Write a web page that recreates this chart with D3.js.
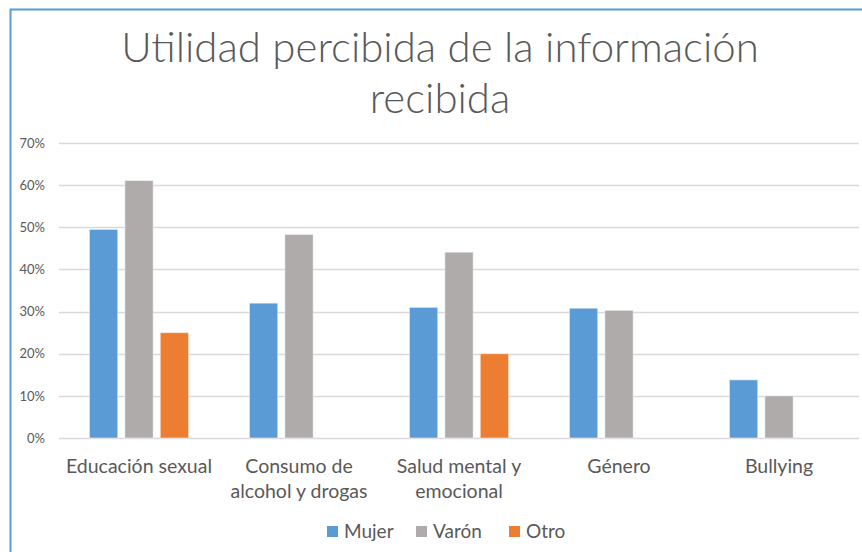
<!DOCTYPE html>
<meta charset="utf-8">
<head>
  <meta charset="utf-8">
  <title>Utilidad percibida de la información recibida</title>
  <script src="https://d3js.org/d3.v7.min.js"></script>
</head>
<style>
body {margin:0; background:#fff;}
text {font-family: Lato, "Open Sans", sans-serif; fill: #595959;}
.grid line {stroke: #d9d9d9; stroke-width: 1.3px;}
</style>
<body>
<script>

// data
var categories = ["Educación sexual", "Consumo de\nalcohol y drogas", "Salud mental y\nemocional", "Género", "Bullying"];
var series = ["Mujer", "Varón", "Otro"];
var mujer = [0.495, 0.32, 0.31, 0.308, 0.138];
var varon = [0.611, 0.483, 0.441, 0.303, 0.100];
var otro  = [0.25, null, 0.20, null, null];
var yTicks = [0, 0.1, 0.2, 0.3, 0.4, 0.5, 0.6, 0.7];
var colors = ["#5b9bd5", "#afabab", "#ed7d31"];

var values = [mujer, varon, otro];

var W = 862, H = 552;
var margin = {top: 143, right: 3, bottom: 114, left: 59},
    width = W - margin.left - margin.right,
    height = H - margin.top - margin.bottom;

var svg = d3.select("body").append("svg")
    .attr("width", W)
    .attr("height", H);

svg.append("rect").attr("width", W).attr("height", H).attr("fill", "#fff");

// chart frame (only top and left edges are visible)
svg.append("rect")
    .attr("x", 10.5).attr("y", 9.5)
    .attr("width", W + 20).attr("height", H + 20)
    .attr("fill", "none")
    .attr("stroke", "#5b9bd5")
    .attr("stroke-width", 2);

// title
var title = svg.append("text")
    .attr("text-anchor", "middle")
    .style("font-size", "42px")
    .style("font-weight", 300);
title.append("tspan").attr("x", 440).attr("y", 62).text("Utilidad percibida de la información");
title.append("tspan").attr("x", 440).attr("y", 113).text("recibida");

var g = svg.append("g")
    .attr("transform", "translate(" + margin.left + "," + margin.top + ")");

var x = d3.scaleBand()
    .domain(d3.range(categories.length))
    .range([0, width])
    .paddingInner(0.38)
    .paddingOuter(0.19);

var xs = d3.scaleBand()
    .domain(d3.range(series.length))
    .range([0, x.bandwidth()])
    .paddingInner(0.2);

var y = d3.scaleLinear()
    .domain([0, 0.7])
    .range([height, 0]);

// gridlines
g.append("g")
    .attr("class", "grid")
    .selectAll("line")
    .data(yTicks)
    .join("line")
    .attr("x1", 0).attr("x2", width)
    .attr("y1", function(d) { return Math.round(y(d)) + 0.5; })
    .attr("y2", function(d) { return Math.round(y(d)) + 0.5; });

// y axis labels
var yAxis = g.append("g")
    .call(d3.axisLeft(y).tickValues(yTicks).tickFormat(d3.format(".0%")).tickSize(0).tickPadding(14));
yAxis.select(".domain").remove();
yAxis.selectAll("text")
    .style("font-size", "13px")
    .style("font-family", "Lato, sans-serif")
    .attr("fill", "#595959");

// bars
series.forEach(function(s, si) {
  g.append("g")
    .selectAll("rect")
    .data(values[si].map(function(v, i) { return {i: i, v: v}; }).filter(function(d) { return d.v != null; }))
    .join("rect")
      .attr("x", function(d) { return x(d.i) + xs(si); })
      .attr("y", function(d) { return y(d.v); })
      .attr("width", xs.bandwidth())
      .attr("height", function(d) { return height - y(d.v); })
      .attr("fill", colors[si])
      .attr("stroke", "#fff")
      .attr("stroke-opacity", 0.5)
      .attr("stroke-width", 1);
});

// category labels
var xAxis = g.append("g")
    .attr("transform", "translate(0," + height + ")");
categories.forEach(function(c, i) {
  var t = xAxis.append("text")
      .attr("text-anchor", "middle")
      .style("font-size", "19.5px");
  c.split("\n").forEach(function(line, k) {
    t.append("tspan")
      .attr("x", x(i) + x.bandwidth() / 2)
      .attr("y", 35 + k * 25)
      .text(line);
  });
});

// legend
var legendX = [327, 416, 509];
var legend = svg.append("g");
series.forEach(function(s, si) {
  legend.append("rect")
    .attr("x", legendX[si]).attr("y", 526)
    .attr("width", 11).attr("height", 11)
    .attr("fill", colors[si]);
  legend.append("text")
    .attr("x", legendX[si] + 17).attr("y", 537.5)
    .style("font-size", "19px")
    .text(s);
});

</script>
</body>
